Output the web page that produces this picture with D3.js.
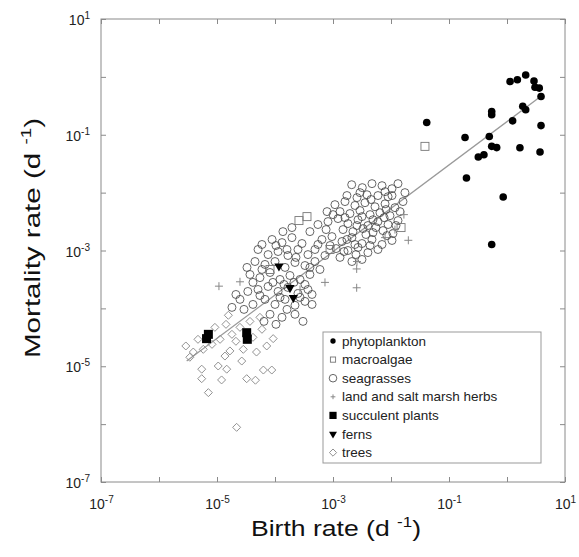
<!DOCTYPE html>
<html>
<head>
<meta charset="utf-8">
<script src="https://cdn.jsdelivr.net/npm/d3@7"></script>
<style>
  body { margin: 0; background: #fff; }
  svg { font-family: "Liberation Sans", Arial, sans-serif; }
</style>
</head>
<body>
<svg id="chart" width="579" height="557"></svg>
<script>
// points are [birth rate, mortality rate], both in d^-1
const phytoplankton = [
  [1.13, 0.83], [1.51, 0.89], [2.10, 1.08], [2.92, 0.85], [3.04, 0.66], [3.6, 0.64],
  [3.86, 0.457], [1.87, 0.31], [2.10, 0.27], [1.25, 0.174], [0.545, 0.252], [0.545, 0.221],
  [3.86, 0.144], [0.0413, 0.163], [0.189, 0.0897], [0.495, 0.0935], [0.545, 0.063],
  [0.664, 0.060], [1.67, 0.0597], [3.71, 0.0504], [0.32, 0.0413], [0.40, 0.045],
  [0.20, 0.0179], [0.86, 0.0084], [0.545, 0.00127]
];
const macroalgae = [
  [0.0385, 0.063], [0.0149, 0.00249], [2.59e-4, 3.29e-3], [3.56e-4, 3.85e-3],
  [8.9e-4, 1.04e-3], [8.2e-5, 4.7e-4]
];
const seagrasses = [
  [2.1e-3, 1.37e-2], [3.2e-3, 1.22e-2], [4.7e-3, 1.43e-2], [7.0e-3, 1.32e-2], [1.04e-2, 1.17e-2],
  [1.32e-2, 1.43e-2], [3.85e-3, 9.2e-3], [5.96e-3, 8.9e-3], [8.9e-3, 8.5e-3], [2.59e-3, 8.2e-3],
  [1.08e-3, 6.2e-3], [1.61e-3, 7.0e-3], [2.39e-3, 6.0e-3], [3.56e-3, 6.7e-3], [5.3e-3, 5.7e-3],
  [7.9e-3, 6.4e-3], [1.17e-2, 5.5e-3], [1.61e-2, 7.0e-3], [1.32e-3, 4.7e-3], [1.96e-3, 4.35e-3],
  [2.92e-3, 4.9e-3], [4.35e-3, 4.17e-3], [6.45e-3, 4.5e-3], [9.6e-3, 4.0e-3], [1.43e-2, 4.7e-3],
  [8.2e-4, 3.16e-3], [1.22e-3, 3.56e-3], [1.81e-3, 2.92e-3], [2.7e-3, 3.4e-3], [4.0e-3, 2.7e-3],
  [5.96e-3, 3.16e-3], [8.9e-3, 2.81e-3], [1.32e-2, 3.29e-3], [1.49e-3, 2.3e-3], [2.21e-3, 2.12e-3],
  [3.29e-3, 2.39e-3], [4.89e-3, 2.04e-3], [7.27e-3, 2.21e-3], [1.08e-2, 1.96e-3],
  [6.45e-4, 1.55e-3], [9.6e-4, 1.74e-3], [1.43e-3, 1.43e-3], [2.12e-3, 1.67e-3], [3.16e-3, 1.32e-3],
  [4.7e-3, 1.55e-3], [7.0e-3, 1.27e-3], [1.04e-2, 1.49e-3], [1.13e-3, 1.08e-3], [1.81e-3, 1.0e-3],
  [2.7e-3, 1.13e-3], [4.0e-3, 9.2e-4], [5.96e-3, 1.04e-3], [1.32e-3, 7.6e-4], [2.12e-3, 6.45e-4],
  [7.27e-4, 8.2e-4], [3.16e-3, 7.0e-4], [4.89e-4, 1.04e-3],
  [1.74e-3, 8.9e-3], [2.92e-3, 1.0e-2], [7.9e-3, 1.04e-2], [4.52e-3, 7.6e-3], [1.04e-2, 8.9e-3],
  [1.74e-2, 1.0e-2], [1.0e-3, 4.17e-3], [1.61e-3, 3.7e-3], [3.16e-3, 3.85e-3], [4.89e-3, 3.4e-3],
  [7.6e-3, 3.7e-3], [2.59e-3, 2.7e-3], [3.7e-3, 1.89e-3], [5.5e-3, 2.49e-3], [8.5e-3, 1.81e-3],
  [1.74e-3, 1.55e-3], [2.39e-3, 1.27e-3], [4.35e-3, 1.22e-3], [7.6e-4, 2.3e-3], [5.5e-4, 1.27e-3],
  [8.9e-4, 1.22e-3], [1.55e-3, 9.6e-4], [2.49e-3, 8.5e-4], [8.2e-3, 5.1e-3], [1.22e-2, 2.7e-3],
  [5.96e-5, 1.27e-3], [8.9e-5, 1.55e-3], [1.32e-4, 1.37e-3], [1.96e-4, 1.67e-3], [2.92e-4, 1.32e-3],
  [7.6e-5, 8.5e-4], [1.13e-4, 9.6e-4], [1.67e-4, 8.2e-4], [2.49e-4, 1.04e-3], [3.7e-4, 8.5e-4],
  [4.52e-5, 6.45e-4], [6.72e-5, 5.74e-4], [1.0e-4, 6.45e-4], [1.49e-4, 5.1e-4], [2.21e-4, 6.2e-4],
  [3.29e-4, 5.5e-4], [4.89e-4, 6.45e-4], [3.7e-5, 3.85e-4], [5.5e-5, 3.4e-4], [8.2e-5, 4.17e-4],
  [1.22e-4, 3.16e-4], [1.81e-4, 3.7e-4], [2.7e-4, 3.16e-4], [4.0e-4, 3.85e-4], [5.1e-5, 2.12e-4],
  [7.6e-5, 2.39e-4], [1.13e-4, 1.96e-4], [1.67e-4, 2.3e-4], [2.49e-4, 1.81e-4], [3.7e-4, 2.12e-4],
  [6.72e-5, 1.43e-4], [1.0e-4, 1.17e-4], [1.49e-4, 1.43e-4], [2.21e-4, 1.13e-4], [3.29e-4, 1.32e-4],
  [8.2e-5, 7.9e-5], [1.32e-4, 7.0e-5], [2.21e-4, 7.9e-5], [3.04e-4, 5.96e-5], [2.49e-5, 1.43e-4],
  [3.4e-5, 1.96e-4], [1.81e-5, 1.04e-4], [4.0e-4, 2.12e-3], [5.5e-4, 2.81e-3], [1.96e-4, 2.49e-3],
  [1.37e-4, 2.12e-3], [7.9e-4, 4.7e-3],
  [5.1e-5, 1.04e-3], [1.04e-4, 1.22e-3], [1.61e-4, 1.04e-3], [2.3e-4, 7.6e-4], [4.0e-4, 5.1e-4],
  [5.96e-4, 4.7e-4], [5.96e-5, 4.7e-4], [9.2e-5, 2.81e-4], [1.43e-4, 2.59e-4], [2.12e-4, 2.81e-4],
  [3.29e-4, 2.59e-4], [4.17e-5, 2.81e-4], [3.29e-5, 5.1e-4], [5.5e-5, 1.67e-4], [1.22e-4, 1.55e-4],
  [2.7e-4, 1.55e-4], [4.35e-4, 1.74e-4], [1.61e-4, 9.6e-5], [1.04e-4, 5.3e-5], [6.45e-5, 5.96e-5],
  [4.35e-4, 1.17e-4], [2.12e-5, 1.74e-4], [2.92e-5, 9.6e-5], [4.17e-5, 1.17e-4]
];
const herbs = [
  [1.08e-5, 2.42e-4], [2.49e-5, 2.88e-4], [1.99e-2, 1.5e-3], [2.56e-3, 2.27e-4], [2.56e-3, 4.8e-4],
  [7.27e-4, 2.81e-4], [2.59e-3, 6.45e-4], [1.67e-2, 4.17e-3], [1.17e-2, 2.3e-3], [2.7e-4, 2.12e-4],
  [7.9e-3, 1.67e-3]
];
const succulents = [[7.1e-6, 3.56e-5], [6.6e-6, 3.0e-5], [3.25e-5, 3.8e-5], [3.33e-5, 2.92e-5]];
const ferns = [[1.17e-4, 5.36e-4], [1.81e-4, 2.27e-4], [2.07e-4, 1.53e-4]];
const trees = [
  [2.9e-6, 2.24e-5], [3.9e-6, 1.76e-5], [5.45e-6, 8.9e-6], [5.45e-6, 6.1e-6], [7.1e-6, 3.5e-6],
  [2.18e-5, 8.8e-7], [1.2e-5, 5.8e-6], [1.05e-5, 1.01e-5], [1.47e-5, 8.9e-6], [3.25e-5, 6.1e-6],
  [4.6e-5, 5.74e-6], [6.3e-5, 8.6e-6], [8.8e-5, 8.6e-6], [4.8e-5, 1.76e-5], [7.2e-5, 2.24e-5],
  [9.3e-5, 3.0e-5], [1.57e-5, 7.6e-5], [2.84e-5, 1.96e-5], [2.67e-5, 1.23e-5], [1.67e-5, 1.84e-5],
  [1.37e-5, 1.5e-5], [5.8e-6, 1.96e-5], [8.2e-6, 2.39e-5], [1.13e-5, 2.92e-5], [1.81e-5, 3.56e-5],
  [2.49e-5, 4.7e-5], [3.7e-5, 5.96e-5], [9.2e-6, 4.7e-5], [1.43e-5, 5.3e-5], [5.5e-5, 7.0e-5],
  [3.4e-6, 1.43e-5], [4.7e-6, 2.92e-5], [2.12e-5, 2.7e-5], [4.17e-5, 3.16e-5], [5.96e-5, 4.35e-5]
];
// fitted line end points
const fitLine = [[3.0e-6, 1.23e-5], [3.7, 0.45]];

const decades = [1e-7, 1e-6, 1e-5, 1e-4, 1e-3, 1e-2, 1e-1, 1, 10];
const labelledExps = [-7, -5, -3, -1, 1];
const legendNames = ["phytoplankton", "macroalgae", "seagrasses", "land and salt marsh herbs",
  "succulent plants", "ferns", "trees"];

const svg = d3.select("#chart");
const plotL = 101, plotR = 565, plotT = 19, plotB = 482;

const x = d3.scaleLog().domain([1e-7, 10]).range([plotL, plotR]);
const y = d3.scaleLog().domain([1e-7, 10]).range([plotB, plotT]);

const frameCol = "#8a8a8a";

// ticks on all four sides, pointing inwards
function tickLabels(sel) {
  sel.each(function (d) {
    const e = Math.round(Math.log10(d));
    const t = d3.select(this);
    t.text(null);
    if (!labelledExps.includes(e)) return;
    t.append("tspan").text("10");
    t.append("tspan").attr("dy", -6).attr("font-size", 10).text(e);
  });
}

const gx = svg.append("g").attr("transform", `translate(0,${plotB})`)
  .call(d3.axisBottom(x).tickValues(decades).tickSize(-5).tickSizeOuter(0).tickPadding(17).tickFormat(""));
const gy = svg.append("g").attr("transform", `translate(${plotL},0)`)
  .call(d3.axisLeft(y).tickValues(decades).tickSize(-5).tickSizeOuter(0).tickPadding(11).tickFormat(""));
const gx2 = svg.append("g").attr("transform", `translate(0,${plotT})`)
  .call(d3.axisTop(x).tickValues(decades).tickSize(-5).tickSizeOuter(0).tickFormat(""));
const gy2 = svg.append("g").attr("transform", `translate(${plotR},0)`)
  .call(d3.axisRight(y).tickValues(decades).tickSize(-5).tickSizeOuter(0).tickFormat(""));

[gx, gy, gx2, gy2].forEach(g => {
  g.select(".domain").remove();
  g.selectAll("line").attr("stroke", frameCol);
  g.selectAll("text").attr("fill", "#222").attr("font-size", 14);
});
gx.selectAll("text").call(tickLabels);
gy.selectAll("text").call(tickLabels).attr("dy", "0.4em");

svg.append("rect")
  .attr("x", plotL).attr("y", plotT)
  .attr("width", plotR - plotL).attr("height", plotB - plotT)
  .attr("fill", "none").attr("stroke", frameCol);

// axis titles
const xt = svg.append("text")
  .attr("x", 336).attr("y", 536)
  .attr("text-anchor", "middle").attr("font-size", 22).attr("fill", "#111")
  .attr("textLength", 170).attr("lengthAdjust", "spacingAndGlyphs");
xt.append("tspan").text("Birth rate (d ");
xt.append("tspan").attr("dy", -9).attr("font-size", 14).text("-1");
xt.append("tspan").attr("dy", 9).text(")");

const yt = svg.append("text")
  .attr("transform", "translate(40,238) rotate(-90)")
  .attr("text-anchor", "middle").attr("font-size", 22).attr("fill", "#111")
  .attr("textLength", 240).attr("lengthAdjust", "spacingAndGlyphs");
yt.append("tspan").text("Mortality rate (d ");
yt.append("tspan").attr("dy", -9).attr("font-size", 14).text("-1");
yt.append("tspan").attr("dy", 9).text(")");

// regression line
svg.append("path")
  .attr("d", d3.line().x(d => x(d[0])).y(d => y(d[1]))(fitLine))
  .attr("stroke", "#9a9a9a").attr("stroke-width", 1.3).attr("fill", "none");

// marker drawing functions
const markers = {
  phytoplankton: (g, s) => g.append("circle").attr("r", 3.8 * s).attr("fill", "#000"),
  macroalgae: (g, s) => g.append("rect").attr("x", -4 * s).attr("y", -4 * s)
    .attr("width", 8 * s).attr("height", 8 * s).attr("fill", "none").attr("stroke", "#777").attr("stroke-width", 0.9),
  seagrasses: (g, s) => g.append("circle").attr("r", 4 * s).attr("fill", "none")
    .attr("stroke", "#4a4a4a").attr("stroke-width", 0.85),
  herbs: (g, s) => g.append("path").attr("d", `M${-4 * s},0H${4 * s}M0,${-4 * s}V${4 * s}`)
    .attr("stroke", "#888").attr("stroke-width", 1),
  succulents: (g, s) => g.append("rect").attr("x", -4.5 * s).attr("y", -4.5 * s)
    .attr("width", 9 * s).attr("height", 9 * s).attr("fill", "#000"),
  ferns: (g, s) => g.append("path").attr("d", d3.symbol(d3.symbolTriangle, 38 * s * s)())
    .attr("transform", "rotate(180)").attr("fill", "#000"),
  trees: (g, s) => g.append("path").attr("d", d3.symbol(d3.symbolSquare, 32 * s * s)())
    .attr("transform", "rotate(45)").attr("fill", "none").attr("stroke", "#8c8c8c").attr("stroke-width", 0.9)
};

const series = [
  ["trees", trees], ["seagrasses", seagrasses], ["herbs", herbs], ["macroalgae", macroalgae],
  ["ferns", ferns], ["succulents", succulents], ["phytoplankton", phytoplankton]
];
series.forEach(([key, pts]) => {
  svg.append("g").selectAll("g").data(pts).enter().append("g")
    .attr("transform", d => `translate(${x(d[0])},${y(d[1])})`)
    .each(function () { markers[key](d3.select(this), 1); });
});

// legend
const legendKeys = ["phytoplankton", "macroalgae", "seagrasses", "herbs", "succulents", "ferns", "trees"];
const legendScale = [0.7, 0.65, 0.95, 0.6, 0.8, 0.85, 0.9];
const lg = svg.append("g").attr("transform", "translate(323,332)");
lg.append("rect").attr("width", 218).attr("height", 131)
  .attr("fill", "#fff").attr("stroke", "#999");
legendNames.forEach((name, i) => {
  const cy = 9 + i * 18.6;
  const m = lg.append("g").attr("transform", `translate(10,${cy})`);
  markers[legendKeys[i]](m, legendScale[i]);
  lg.append("text").attr("x", 19).attr("y", cy + 4.5)
    .attr("font-size", 13.5).attr("fill", "#222").text(name);
});
</script>
</body>
</html>
